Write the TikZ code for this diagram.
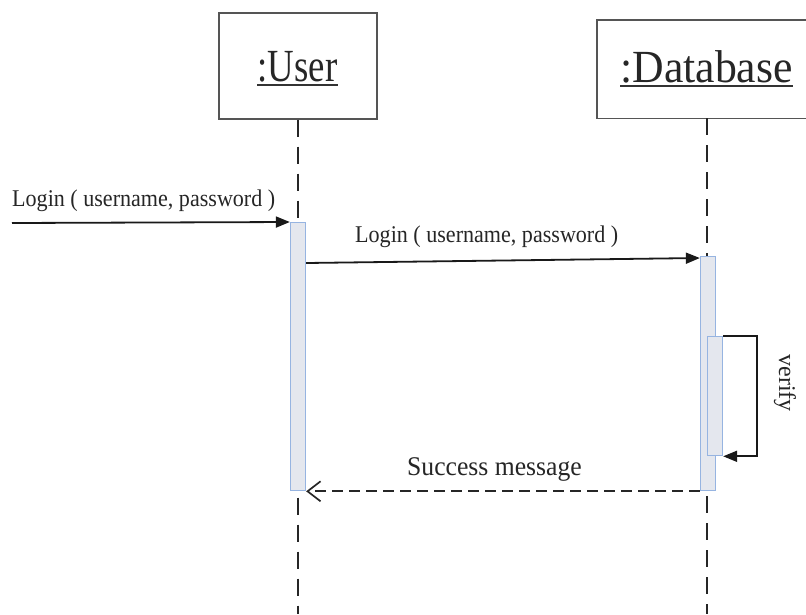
\documentclass[tikz,border=0pt]{standalone}
\usepackage{fontspec}
\setmainfont{Liberation Serif}
\usetikzlibrary{arrows.meta}
\definecolor{actfill}{RGB}{228,231,238}
\definecolor{actborder}{RGB}{150,180,225}
\definecolor{boxline}{RGB}{85,85,85}
\begin{document}
\begin{tikzpicture}[x=1pt,y=-1pt,
  obj/.style={draw=boxline, line width=1.4pt, fill=white, inner sep=0pt},
  act/.style={draw=actborder, fill=actfill, line width=1.3pt, minimum width=15pt, inner sep=0pt, anchor=north},
  life/.style={draw=black!85, line width=1.6pt, dash pattern=on 17pt off 10pt},
  msg/.style={draw=black!90, line width=1.8pt, -{Triangle[length=14pt,width=11pt]}},
  ret/.style={draw=black!85, line width=1.7pt, dash pattern=on 11pt off 6pt, -{Straight Barb[length=13pt,width=20pt,line width=1.7pt]}},
  lbl/.style={inner sep=0pt, text=black!85},
  uline/.style={draw=black!80, line width=1.8pt}
]
\useasboundingbox (0,0) rectangle (806,614);
\fill[white] (0,0) rectangle (806,614);

% objects
\node[obj, minimum width=158pt, minimum height=106pt] (user) at (298,66) {};
\node[inner sep=0pt, minimum width=209pt, minimum height=98pt] (db) at (701.5,69) {};
\draw[boxline, line width=1.4pt] (db.north east) -- (db.north west) -- (db.south west) -- (db.south east);

\node[lbl, anchor=base, font=\fontsize{46}{46}\selectfont] (utxt) at (297.5,81) {\scalebox{0.8}[1]{:User}};
\draw[uline] ([yshift=-4pt]utxt.base west) -- ([yshift=-4pt]utxt.base east);
\node[lbl, anchor=base, font=\fontsize{46}{46}\selectfont] (dtxt) at (706.5,82) {\scalebox{0.95}[1]{:Database}};
\draw[uline] ([yshift=-4pt]dtxt.base west) -- ([yshift=-4pt]dtxt.base east);

% lifelines
\coordinate (uend) at (298,614);
\coordinate (dend) at (707,614);
\draw[life] (user.south) -- (uend);
\draw[life] (dend |- db.south) -- (dend);

% activations
\node[act, minimum height=268pt] (uact) at (298,222) {};
\node[act, minimum height=234pt] (dact) at (708,256) {};
\node[act, minimum height=119pt] (nact) at (715,336) {};

% found message
\coordinate (fstart) at (12,223);
\draw[msg] (fstart) -- (uact.north west);
\node[lbl, anchor=base west, font=\fontsize{24}{24}\selectfont] (l1) at (12,206) {\scalebox{0.92}[1]{Login ( username, password )}};

% message 2
\draw[msg] ([yshift=-41pt]uact.north east) -- ([yshift=-2pt]dact.north west);
\node[lbl, anchor=base west, font=\fontsize{24}{24}\selectfont] (l2) at (355,242) {\scalebox{0.92}[1]{Login ( username, password )}};

% self message
\draw[msg] (nact.north east) -- ++(34,0) |- (nact.south east);
\node[lbl, rotate=-90, font=\fontsize{24}{24}\selectfont] (verify) at (785,383) {verify};

% return
\draw[ret] (dact.south west) -- (uact.south east);
\node[lbl, anchor=base west, font=\fontsize{27}{27}\selectfont] (l3) at (407,475) {\scalebox{0.95}[1]{Success message}};
\end{tikzpicture}
\end{document}
